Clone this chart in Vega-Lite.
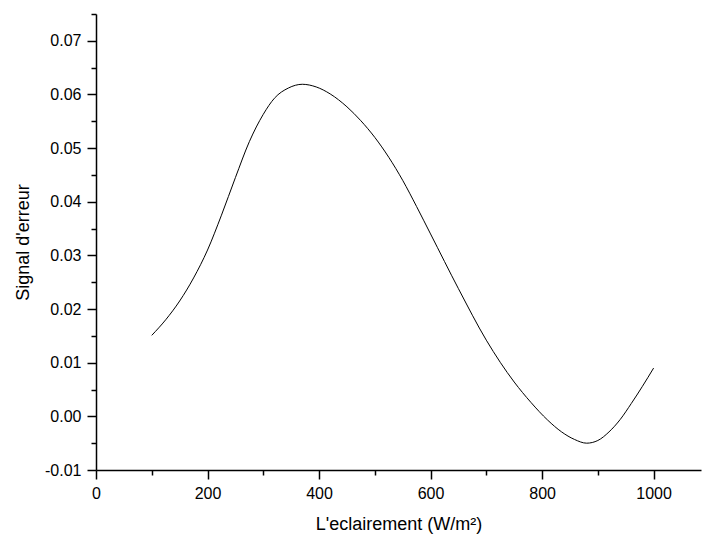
{
  "$schema": "https://vega.github.io/schema/vega-lite/v6.json",
  "autosize": "none",
  "width": 605,
  "height": 456,
  "padding": {"left": 96, "top": 14, "right": 1, "bottom": 69},
  "background": "white",
  "config": {
    "view": {"stroke": null},
    "font": "Liberation Sans",
    "axis": {
      "grid": false,
      "domainColor": "black",
      "domainWidth": 1.5,
      "tickColor": "black",
      "tickWidth": 1.5,
      "labelColor": "black",
      "titleColor": "black",
      "labelFont": "Liberation Sans",
      "titleFont": "Liberation Sans",
      "labelFontSize": 16,
      "titleFontSize": 18,
      "titleFontWeight": "normal"
    }
  },
  "data": {
    "values": [
      {"x": 100, "y": 0.0151},
      {"x": 125, "y": 0.0180},
      {"x": 150, "y": 0.0215},
      {"x": 175, "y": 0.0258},
      {"x": 200, "y": 0.0310},
      {"x": 225, "y": 0.0375},
      {"x": 250, "y": 0.0445},
      {"x": 275, "y": 0.0512},
      {"x": 300, "y": 0.0563},
      {"x": 320, "y": 0.0593},
      {"x": 345, "y": 0.0612},
      {"x": 370, "y": 0.0619},
      {"x": 395, "y": 0.0614},
      {"x": 420, "y": 0.0601},
      {"x": 450, "y": 0.0577},
      {"x": 475, "y": 0.0551},
      {"x": 500, "y": 0.0520},
      {"x": 525, "y": 0.0483},
      {"x": 550, "y": 0.0440},
      {"x": 575, "y": 0.0391},
      {"x": 600, "y": 0.0340},
      {"x": 650, "y": 0.0238},
      {"x": 700, "y": 0.0142},
      {"x": 750, "y": 0.0064},
      {"x": 780, "y": 0.0026},
      {"x": 810, "y": -0.0007},
      {"x": 835, "y": -0.0029},
      {"x": 858, "y": -0.0043},
      {"x": 880, "y": -0.0050},
      {"x": 900, "y": -0.0045},
      {"x": 920, "y": -0.0029},
      {"x": 940, "y": -0.0006},
      {"x": 960, "y": 0.0024},
      {"x": 980, "y": 0.0056},
      {"x": 1000, "y": 0.0090}
    ]
  },
  "mark": {"type": "line", "color": "black", "strokeWidth": 1, "interpolate": "monotone", "clip": true},
  "encoding": {
    "x": {
      "field": "x",
      "type": "quantitative",
      "scale": {"domain": [0, 1085], "nice": false, "zero": false},
      "axis": {
        "title": "L'eclairement (W/m²)",
        "values": [0, 100, 200, 300, 400, 500, 600, 700, 800, 900, 1000],
        "labelExpr": "datum.value % 200 === 0 ? format(datum.value, 'd') : ''",
        "tickSize": {"condition": {"test": "datum.value % 200 === 0", "value": 9}, "value": 5},
        "labelPadding": 6,
        "labelFlush": false,
        "titlePadding": 14
      }
    },
    "y": {
      "field": "y",
      "type": "quantitative",
      "scale": {"domain": [-0.01, 0.075], "nice": false, "zero": false},
      "axis": {
        "title": "Signal d'erreur",
        "values": [-0.01, -0.005, 0, 0.005, 0.01, 0.015, 0.02, 0.025, 0.03, 0.035, 0.04, 0.045, 0.05, 0.055, 0.06, 0.065, 0.07, 0.075],
        "labelExpr": "abs(round(datum.value * 1000) % 10) === 0 ? replace(format(datum.value, '.2f'), '\u2212', '-') : ''",
        "tickSize": {"condition": {"test": "abs(round(datum.value * 1000) % 10) === 0", "value": 9}, "value": 5},
        "labelPadding": 6,
        "labelFlush": false,
        "titlePadding": 12
      }
    }
  }
}
